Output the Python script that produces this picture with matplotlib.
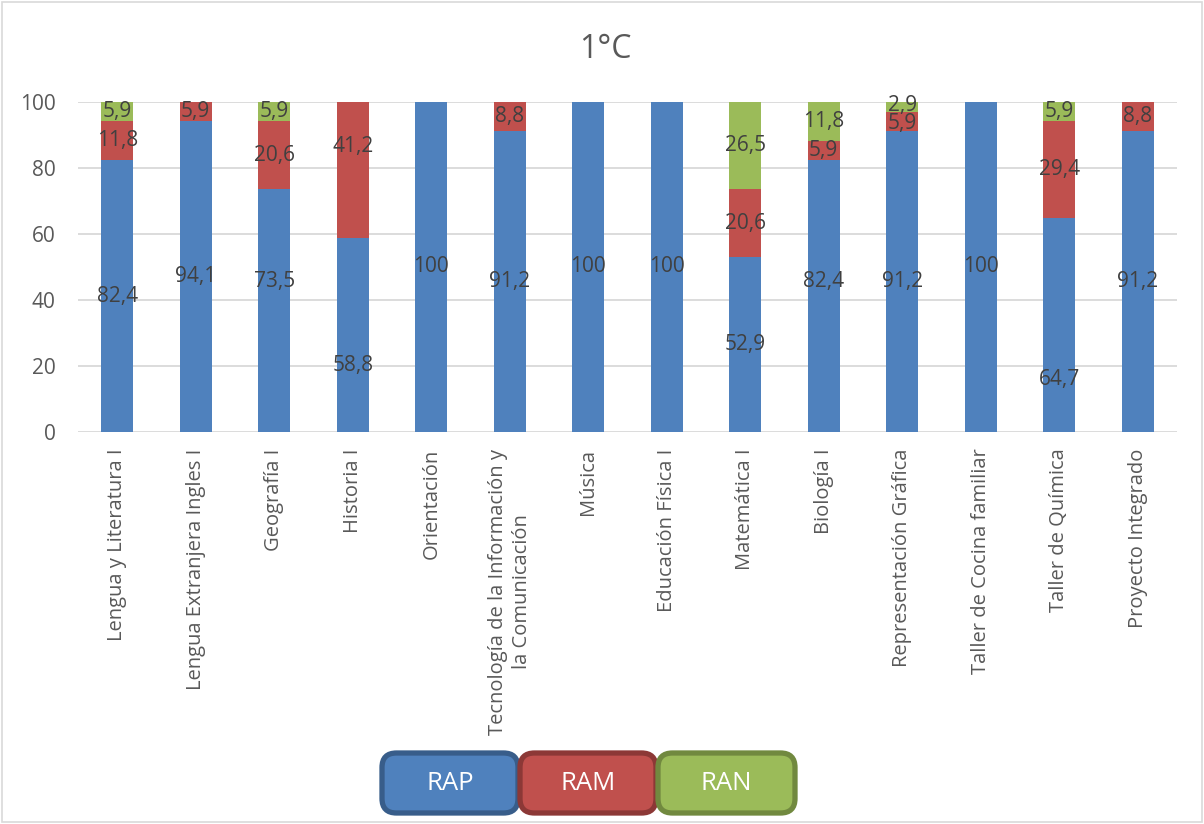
import matplotlib
matplotlib.use("Agg")
import matplotlib.pyplot as plt
from matplotlib.patches import FancyBboxPatch, Rectangle
import numpy as np

plt.rcParams['font.family'] = ['Open Sans', 'DejaVu Sans']

title = "1°C"
categories = [
    "Lengua y Literatura I", "Lengua Extranjera Ingles I", "Geografía I", "Historia I",
    "Orientación", "Tecnología de la Información y\nla Comunicación", "Música",
    "Educación Física I", "Matemática I", "Biología I", "Representación Gráfica",
    "Taller de Cocina familiar", "Taller de Química", "Proyecto Integrado",
]
series_names = ["RAP", "RAM", "RAN"]
rap = [82.4, 94.1, 73.5, 58.8, 100, 91.2, 100, 100, 52.9, 82.4, 91.2, 100, 64.7, 91.2]
ram = [11.8, 5.9, 20.6, 41.2, 0, 8.8, 0, 0, 20.6, 5.9, 5.9, 0, 29.4, 8.8]
ran = [5.9, 0, 5.9, 0, 0, 0, 0, 0, 26.5, 11.8, 2.9, 0, 5.9, 0]
yticks = [0, 20, 40, 60, 80, 100]

# labels that were moved by hand in the original: (series, index) -> y
label_override = {(0, 2): 45.5, (0, 3): 20.3, (0, 9): 45.5, (0, 12): 15.8, (1, 3): 86.4,
                  (1, 10): 93.6, (2, 10): 99.0}

colors = ["#4F81BD", "#C0504D", "#9BBB59"]
edges = ["#385D8A", "#8C3836", "#71893F"]
txt = "#404040"

W, H = 1204, 824
fig = plt.figure(figsize=(W / 100, H / 100), dpi=100)
ax = fig.add_axes([78 / W, 1 - 432 / H, (1177 - 78) / W, (432 - 102) / H])

x = np.arange(len(categories))
data = [rap, ram, ran]
bottom = np.zeros(len(categories))
for si, vals in enumerate(data):
    vals = np.array(vals, dtype=float)
    ax.bar(x, vals, 0.41, bottom=bottom, color=colors[si], zorder=2)
    for i, v in enumerate(vals):
        if v > 0:
            y = label_override.get((si, i), bottom[i] + v / 2)
            lab = ("%g" % v).replace(".", ",")
            ax.text(x[i], y, lab, ha="center", va="center", fontsize=15, color=txt, zorder=3)
    bottom += vals

ax.set_xlim(-0.5, len(categories) - 0.5)
ax.set_ylim(0, 100)
ax.set_yticks(yticks)
ax.set_yticklabels([str(t) for t in yticks], fontsize=15, color="#595959")
ax.yaxis.grid(True, color="#D9D9D9", linewidth=1.3, zorder=0)
ax.set_axisbelow(True)
for s in ax.spines.values():
    s.set_visible(False)
ax.tick_params(axis="both", length=0)
ax.tick_params(axis="y", pad=16)
ax.set_xticks(x)
ax.set_xticklabels(categories, rotation=90, fontsize=14.5, color="#595959",
                   ha="center", va="top", multialignment="center", linespacing=1.25)
ax.tick_params(axis="x", pad=12)

fig.text(605 / W, 1 - 49 / H, title, ha="center", va="center", fontsize=23, color="#595959")

# chart border
fig.patches.append(Rectangle((2 / W, 2 / H), (W - 4) / W, (H - 4) / H, transform=fig.transFigure,
                             fill=False, edgecolor="#D9D9D9", linewidth=1.2))

# legend boxes
boxes = [(382, 518), (520, 656), (658, 795)]
for (x0, x1), name, c, e in zip(boxes, series_names, colors, edges):
    y0, y1 = 753, 813
    p = FancyBboxPatch((x0 / W, 1 - y1 / H), (x1 - x0) / W, (y1 - y0) / H,
                       boxstyle="round,pad=0,rounding_size=0.012", transform=fig.transFigure,
                       facecolor=c, edgecolor=e, linewidth=3.8, mutation_aspect=W / H)
    fig.patches.append(p)
    fig.text((x0 + x1) / 2 / W, 1 - (y0 + y1) / 2 / H, name, ha="center", va="center",
             fontsize=18.5, color="white")

fig.savefig("out.png", dpi=100)
